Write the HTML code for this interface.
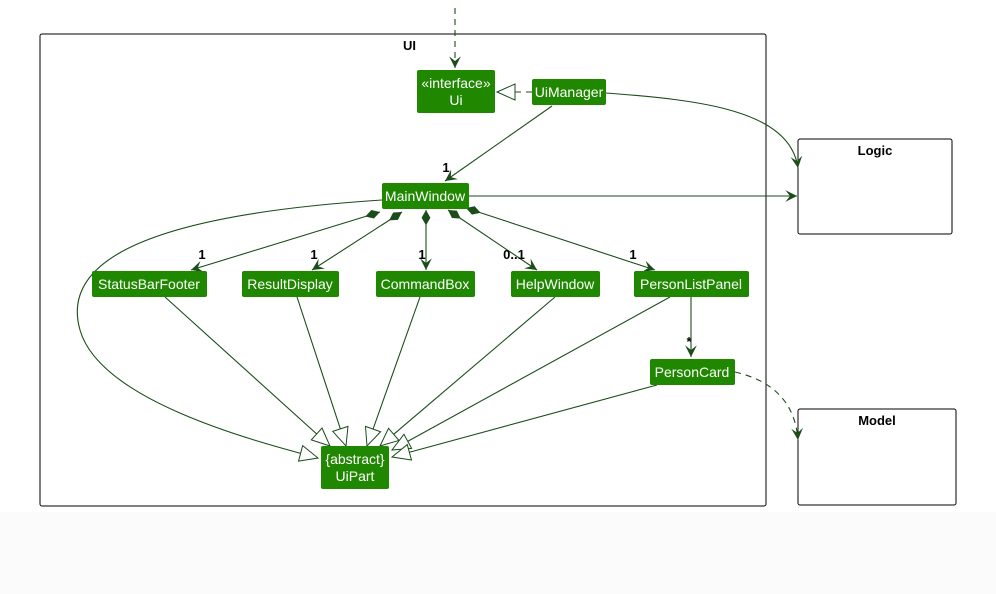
<!DOCTYPE html>
<html><head><style>
body{margin:0;background:#fff}
svg{display:block}
text{font-family:"Liberation Sans",sans-serif}
.b{fill:#1f8800}
.t{fill:#fff;font-size:14px;text-anchor:middle}
.e{stroke:#1b4d1b;stroke-width:1.1;fill:none}
.l{font-size:13px;font-weight:bold;fill:#000}
</style></head><body>
<svg width="996" height="594" viewBox="0 0 996 594">
<defs>
<marker id="a" viewBox="0 0 12 12" refX="11" refY="6" markerWidth="14" markerHeight="14" markerUnits="userSpaceOnUse" orient="auto"><path d="M1,1 L11,6 L1,11 L5,6 Z" fill="#1b4d1b"/></marker>
<marker id="h" viewBox="0 0 20 20" refX="19" refY="10" markerWidth="20" markerHeight="20" markerUnits="userSpaceOnUse" orient="auto"><path d="M1,2 L19,10 L1,18 Z" fill="#fff" stroke="#1b4d1b" stroke-width="1"/></marker>
<marker id="d" viewBox="0 0 16 10" refX="1" refY="5" markerWidth="18" markerHeight="11" markerUnits="userSpaceOnUse" orient="auto"><path d="M1,5 L8,1 L15,5 L8,9 Z" fill="#1b4d1b"/></marker>
</defs>
<rect x="0" y="512" width="996" height="82" fill="#fbfbfb"/>
<rect x="40" y="34" width="726" height="472" rx="2" fill="#fff" stroke="#000" stroke-width="1"/>
<text x="403" y="50" class="l" font-size="14">UI</text>
<rect x="798" y="139" width="154" height="95" rx="2" fill="#fff" stroke="#000"/>
<text x="875" y="155" class="l" text-anchor="middle">Logic</text>
<rect x="798" y="409" width="158" height="96" rx="2" fill="#fff" stroke="#000"/>
<text x="877" y="425" class="l" text-anchor="middle">Model</text>

<path class="e" d="M455,8 L455,68" stroke-dasharray="6,5" marker-end="url(#a)"/>
<path class="e" d="M532,92 L497,92" stroke-dasharray="6,5" marker-end="url(#h)"/>
<path class="e" d="M552,106 L445,181" marker-end="url(#a)"/>
<path class="e" d="M606,93 C700,100 790,110 798,168" marker-end="url(#a)"/>
<path class="e" d="M469,196 L797,196" marker-end="url(#a)"/>
<path class="e" d="M380,212 L191,270" marker-start="url(#d)" marker-end="url(#a)"/>
<path class="e" d="M402,212 L312,270" marker-start="url(#d)" marker-end="url(#a)"/>
<path class="e" d="M426,210 L426,270" marker-start="url(#d)" marker-end="url(#a)"/>
<path class="e" d="M448,210 L537,270" marker-start="url(#d)" marker-end="url(#a)"/>
<path class="e" d="M466,208 L655,270" marker-start="url(#d)" marker-end="url(#a)"/>
<path class="e" d="M382,200 C150,215 60,260 80,330 C100,400 250,440 318,458" marker-end="url(#h)"/>
<path class="e" d="M165,297 L330,446" marker-end="url(#h)"/>
<path class="e" d="M297,297 L346,446" marker-end="url(#h)"/>
<path class="e" d="M420,297 L367,446" marker-end="url(#h)"/>
<path class="e" d="M555,297 L380,446" marker-end="url(#h)"/>
<path class="e" d="M670,297 L392,450" marker-end="url(#h)"/>
<path class="e" d="M657,385 L392,457" marker-end="url(#h)"/>
<path class="e" d="M691,297 L691,357" marker-end="url(#a)"/>
<path class="e" d="M735,372 C770,380 795,400 798,440" stroke-dasharray="6,5" marker-end="url(#a)"/>

<text x="446" y="172" class="l" text-anchor="middle">1</text>
<text x="202" y="259" class="l" text-anchor="middle">1</text>
<text x="314" y="259" class="l" text-anchor="middle">1</text>
<text x="422" y="259" class="l" text-anchor="middle">1</text>
<text x="514" y="259" class="l" text-anchor="middle">0..1</text>
<text x="633" y="259" class="l" text-anchor="middle">1</text>
<text x="689" y="346" class="l" text-anchor="middle">*</text>

<rect class="b" x="417" y="70" width="78" height="43" rx="2"/>
<text class="t" x="456" y="88">«interface»</text><text class="t" x="456" y="105">Ui</text>
<rect class="b" x="532" y="79" width="74" height="26" rx="2"/><text class="t" x="569" y="97">UiManager</text>
<rect class="b" x="382" y="183" width="87" height="26" rx="2"/><text class="t" x="425" y="201">MainWindow</text>
<rect class="b" x="92" y="271" width="115" height="26" rx="2"/><text class="t" x="149" y="289">StatusBarFooter</text>
<rect class="b" x="242" y="271" width="97" height="26" rx="2"/><text class="t" x="290" y="289">ResultDisplay</text>
<rect class="b" x="376" y="271" width="99" height="26" rx="2"/><text class="t" x="425" y="289">CommandBox</text>
<rect class="b" x="511" y="271" width="89" height="26" rx="2"/><text class="t" x="555" y="289">HelpWindow</text>
<rect class="b" x="634" y="271" width="115" height="26" rx="2"/><text class="t" x="691" y="289">PersonListPanel</text>
<rect class="b" x="650" y="359" width="85" height="26" rx="2"/><text class="t" x="692" y="377">PersonCard</text>
<rect class="b" x="321" y="446" width="68" height="43" rx="2"/>
<text class="t" x="355" y="464">{abstract}</text><text class="t" x="355" y="481">UiPart</text>
</svg>
</body></html>
